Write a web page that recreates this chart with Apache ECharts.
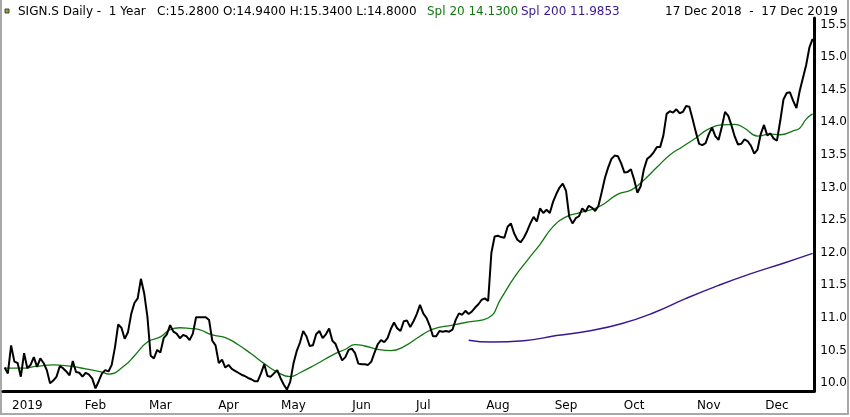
<!DOCTYPE html>
<html>
<head>
<meta charset="utf-8">
<script src="https://cdn.jsdelivr.net/npm/echarts@6/dist/echarts.min.js"></script>
<style>
html,body{margin:0;padding:0;background:#fff;}
#chart{width:850px;height:417px;}
</style>
</head>
<body>
<div id="chart"></div>
<script>
// trading calendar (SIX), 17 Dec 2018 - 17 Dec 2019
var startDate = '2018-12-17';
var endDate = '2019-12-17';
var holidays = ['2018-12-24','2018-12-25','2018-12-26','2018-12-31','2019-01-01','2019-01-02',
	'2019-04-19','2019-04-22','2019-05-01','2019-05-30','2019-06-10','2019-08-01'];

// first trading day of each month and its label
var monthTicks = ['2019-01-03','2019-02-01','2019-03-01','2019-04-01','2019-05-02','2019-06-03',
	'2019-07-01','2019-08-02','2019-09-02','2019-10-01','2019-11-01','2019-12-02'];
var tickLabels = ['2019','Feb','Mar','Apr','May','Jun','Jul','Aug','Sep','Oct','Nov','Dec'];

var priceTicks = [10.0,10.5,11.0,11.5,12.0,12.5,13.0,13.5,14.0,14.5,15.0,15.5];

// daily close, one per trading day
var closes = [
	10.24,10.15,10.58,10.33,10.31,10.10,10.46,10.23,10.28,10.40,
	10.25,10.38,10.31,10.20,10.00,10.04,10.10,10.26,10.23,10.18,
	10.12,10.34,10.17,10.16,10.10,10.16,10.13,10.07,9.92,10.03,
	10.15,10.20,10.18,10.28,10.55,10.90,10.85,10.68,10.78,11.06,
	11.23,11.30,11.60,11.38,11.02,10.42,10.38,10.51,10.47,10.69,
	10.75,10.89,10.79,10.76,10.69,10.74,10.72,10.66,10.76,11.01,
	11.01,11.01,11.01,10.97,10.65,10.58,10.31,10.36,10.24,10.28,
	10.22,10.19,10.16,10.13,10.11,10.08,10.06,10.03,10.03,10.15,
	10.29,10.11,10.10,10.15,10.20,10.08,9.98,9.90,10.02,10.30,
	10.49,10.62,10.80,10.72,10.57,10.58,10.75,10.80,10.69,10.75,
	10.84,10.65,10.60,10.47,10.35,10.40,10.51,10.53,10.46,10.30,
	10.29,10.29,10.28,10.33,10.47,10.60,10.66,10.63,10.69,10.83,
	10.93,10.84,10.80,10.95,10.96,10.86,10.95,11.06,11.20,11.07,
	11.00,10.88,10.72,10.72,10.80,10.79,10.80,10.79,10.82,10.97,
	11.07,11.05,11.11,11.06,11.10,11.16,11.21,11.28,11.30,11.26,
	12.00,12.25,12.26,12.24,12.23,12.40,12.45,12.30,12.20,12.16,
	12.23,12.33,12.45,12.55,12.48,12.68,12.61,12.66,12.61,12.78,
	12.90,13.00,13.06,12.95,12.55,12.45,12.53,12.56,12.68,12.63,
	12.72,12.69,12.64,12.72,12.93,13.15,13.31,13.44,13.49,13.48,
	13.37,13.23,13.24,13.28,13.12,12.92,13.02,13.28,13.44,13.48,
	13.54,13.62,13.62,13.80,14.13,14.17,14.15,14.20,14.14,14.16,
	14.25,14.24,14.05,13.85,13.67,13.65,13.68,13.82,13.92,13.79,
	13.73,13.93,14.16,14.10,13.95,13.78,13.66,13.67,13.74,13.71,
	13.64,13.52,13.58,13.82,13.96,13.80,13.83,13.75,13.72,14.02,
	14.35,14.45,14.46,14.33,14.22,14.48,14.68,14.88,15.15,15.28
];

// Spl 20, read at these trading-day positions
var spl20Idx = [0,5,10,15,20,25,30,32,37,40,44,48,51,54,57,60,64,68,72,76,80,84,88,91,96,
	101,105,108,111,115,119,123,128,132,138,143,149,153,157,161,165,169,173,177,182,185,
	189,193,196,201,205,209,213,217,221,225,228,232,236,239,243,245,247,249];
var spl20 = [10.23,10.23,10.26,10.28,10.26,10.22,10.17,10.14,10.27,10.42,10.63,10.71,10.82,
	10.85,10.84,10.82,10.74,10.70,10.59,10.45,10.30,10.17,10.10,10.16,10.29,10.43,10.52,
	10.59,10.57,10.52,10.50,10.56,10.72,10.83,10.89,10.94,11.00,11.30,11.62,11.88,12.13,
	12.40,12.55,12.61,12.68,12.76,12.90,12.96,13.07,13.31,13.50,13.63,13.76,13.90,13.96,
	13.97,13.91,13.79,13.82,13.81,13.87,13.91,14.05,14.13];

// Spl 200
var spl200Idx = [143,150,160,170,180,190,200,210,220,230,240,249];
var spl200 = [10.66,10.63,10.65,10.73,10.80,10.91,11.08,11.30,11.50,11.68,11.84,11.99];

var dates = [];
function buildDates() {
	var d = new Date(startDate + 'T12:00:00Z');
	var end = new Date(endDate + 'T12:00:00Z');
	while (d <= end) {
		var s = d.toISOString().slice(0, 10);
		var wd = d.getUTCDay();
		if (wd != 0 && wd != 6 && holidays.indexOf(s) < 0) dates.push(s);
		d.setUTCDate(d.getUTCDate() + 1);
	}
}
buildDates();

function pairs(idx, vals) {
	var out = [];
	for (var i = 0; i < idx.length; i++) out.push([dates[idx[i]], vals[i]]);
	return out;
}

function isMonthTick(index, value) {
	return monthTicks.indexOf(value) >= 0;
}

var font = 'DejaVu Sans';
var myChart = echarts.init(document.getElementById('chart'));
var option = {
	animation: false,
	backgroundColor: '#fff',
	grid: {left: 3, right: 34, top: 18, bottom: 26},
	xAxis: {
		type: 'category',
		data: dates,
		boundaryGap: true,
		axisLine: {lineStyle: {color: '#000', width: 3}},
		axisTick: {interval: isMonthTick, alignWithLabel: true, length: 6,
			lineStyle: {color: '#000', width: 2}},
		axisLabel: {
			interval: isMonthTick,
			color: '#000', fontFamily: font, fontSize: 12, margin: 9,
			formatter: function (v) { return tickLabels[monthTicks.indexOf(v)]; }
		},
		splitLine: {show: false}
	},
	yAxis: {
		type: 'value',
		position: 'right',
		min: 9.88,
		max: 15.6,
		axisLine: {show: true, lineStyle: {color: '#000', width: 3}},
		axisTick: {show: false},
		axisLabel: {
			customValues: priceTicks,
			color: '#000', fontFamily: font, fontSize: 12, margin: 6,
			formatter: function (v) { return v.toFixed(1); }
		},
		splitLine: {show: false}
	},
	graphic: [
		{type: 'rect', shape: {x: 1, y: -4, width: 847, height: 418},
			style: {fill: 'none', stroke: '#a8a8a8', lineWidth: 2}},
		{type: 'rect', shape: {x: 5, y: 9, width: 4, height: 4},
			style: {fill: '#9a9a30', stroke: '#444', lineWidth: 1}},
		{type: 'text', x: 18, y: 6, style: {text: 'SIGN.S Daily -  1 Year   C:15.2800 O:14.9400 H:15.3400 L:14.8000',
			fill: '#000', font: '12px "DejaVu Sans"'}},
		{type: 'text', x: 427, y: 6, style: {text: 'Spl 20 14.1300', fill: '#117711', font: '12px "DejaVu Sans"'}},
		{type: 'text', x: 521, y: 6, style: {text: 'Spl 200 11.9853', fill: '#3a1890', font: '12px "DejaVu Sans"'}},
		{type: 'text', x: 665, y: 6, style: {text: '17 Dec 2018  -  17 Dec 2019', fill: '#000', font: '12px "DejaVu Sans"'}}
	],
	series: [
		{
			name: 'Spl 200', type: 'line', data: pairs(spl200Idx, spl200), smooth: true,
			showSymbol: false, lineStyle: {color: '#3a1890', width: 1.5}
		},
		{
			name: 'Spl 20', type: 'line', data: pairs(spl20Idx, spl20), smooth: true,
			showSymbol: false, lineStyle: {color: '#117711', width: 1.3}
		},
		{
			name: 'SIGN.S', type: 'line', data: closes,
			showSymbol: false, lineStyle: {color: '#000', width: 2}
		}
	]
};
myChart.setOption(option, true);
</script>
</body>
</html>
